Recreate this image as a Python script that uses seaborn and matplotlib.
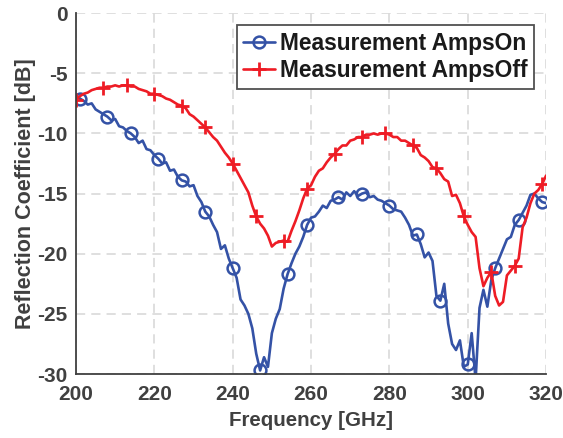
import numpy as np
import pandas as pd
import matplotlib
matplotlib.use("Agg")
import matplotlib.pyplot as plt
import seaborn as sns

freq = list(range(200, 321))

amps_on = [
    -6.8, -7.1, -7.3, -7.6, -7.5, -8.0, -8.2, -8.4, -8.6, -8.9,
    -8.8, -9.4, -9.5, -9.8, -10.0, -10.3, -10.8, -10.6, -11.3, -11.4,
    -11.8, -12.1, -12.5, -12.4, -13.1, -13.0, -13.6, -13.9, -14.0, -14.4,
    -14.3, -15.2, -15.7, -16.5, -16.9, -17.6, -18.2, -19.6, -19.3, -20.4,
    -21.2, -22.0, -23.8, -24.3, -25.0, -26.2, -28.3, -29.7, -28.6, -29.4,
    -26.6, -25.4, -24.6, -22.9, -21.7, -20.8, -20.0, -19.4, -18.6, -17.6,
    -17.0, -16.9, -16.5, -16.0, -16.2, -15.6, -15.5, -15.3, -15.5, -14.9,
    -15.2, -14.8, -15.2, -15.0, -14.9, -15.3, -15.2, -15.5, -15.6, -15.8,
    -16.0, -16.3, -16.4, -16.5, -17.0, -17.6, -18.5, -18.4, -19.2, -20.3,
    -19.9, -20.6, -23.5, -23.9, -22.5, -25.8, -27.5, -28.0, -27.2, -29.4,
    -29.2, -26.6, -30.5, -24.5, -23.0, -24.4, -22.2, -21.2, -20.4, -19.6,
    -18.8, -18.6, -17.6, -17.2, -16.6, -16.0, -15.1, -15.0, -15.4, -15.7,
    -15.8,
]

amps_off = [
    -7.2, -6.9, -6.7, -6.6, -6.4, -6.3, -6.2, -6.2, -6.1, -6.1,
    -6.0, -6.1, -6.0, -6.0, -6.1, -6.1, -6.3, -6.4, -6.5, -6.7,
    -6.7, -6.8, -6.9, -7.1, -7.2, -7.4, -7.6, -7.7, -7.9, -8.4,
    -8.6, -8.9, -9.2, -9.5, -9.9, -10.3, -10.6, -11.1, -11.6, -12.0,
    -12.5, -13.1, -13.7, -14.3, -14.9, -16.0, -16.9, -17.5, -17.9, -18.5,
    -19.4, -19.1, -19.0, -18.9, -19.0, -18.1, -17.3, -16.4, -15.4, -14.6,
    -14.3, -13.6, -13.1, -12.9, -12.4, -12.0, -11.7, -11.3, -11.0, -11.0,
    -10.6, -10.5, -10.3, -10.3, -10.1, -10.1, -10.0, -10.1, -10.0, -10.0,
    -10.1, -10.3, -10.3, -10.6, -10.6, -10.8, -11.0, -11.2, -11.8, -12.0,
    -12.3, -12.8, -12.9, -13.3, -13.8, -14.0, -15.2, -15.1, -15.8, -16.9,
    -17.6, -18.2, -18.6, -21.2, -22.7, -22.0, -21.5, -23.5, -24.3, -24.0,
    -21.8, -21.4, -21.0, -20.4, -17.8, -17.0, -15.8, -15.0, -14.7, -14.2,
    -13.5,
]

on_marks = [1, 8, 14, 21, 27, 33, 40, 47, 54, 59, 67, 73, 80, 87, 93, 100, 107, 113, 119]
off_marks = [0, 7, 13, 20, 27, 33, 40, 46, 53, 59, 66, 73, 79, 86, 92, 99, 106, 112, 119]

xticks = [200, 220, 240, 260, 280, 300, 320]
yticks = [0, -5, -10, -15, -20, -25, -30]

labels = ["Measurement AmpsOn", "Measurement AmpsOff"]

sns.set_theme(style="white")
plt.rcParams['font.family'] = ['Liberation Sans', 'DejaVu Sans']
plt.rcParams['axes.unicode_minus'] = False

df_on = pd.DataFrame({"f": freq, "v": amps_on})
df_off = pd.DataFrame({"f": freq, "v": amps_off})

fig = plt.figure(figsize=(5.63, 4.38), dpi=100)
ax = fig.add_axes([0.135, 0.146, 0.835, 0.824])

blue = '#3452a6'
red = '#ee1c25'

sns.lineplot(data=df_on, x="f", y="v", ax=ax, color=blue, linewidth=1.9,
             marker='o', markersize=8.5, markerfacecolor='none',
             markeredgecolor=blue, markeredgewidth=1.8,
             markevery=on_marks, label=labels[0], estimator=None, sort=False)
sns.lineplot(data=df_off, x="f", y="v", ax=ax, color=red, linewidth=1.9,
             marker='+', markersize=10, markeredgecolor=red, markeredgewidth=2.0,
             markevery=off_marks, label=labels[1], estimator=None, sort=False)

ax.set_xlim(200, 320)
ax.set_ylim(-30, 0)
ax.set_xticks(xticks)
ax.set_yticks(yticks)
ax.set_xticklabels([str(t) for t in xticks])
ax.set_yticklabels([str(t) for t in yticks])

ax.grid(True, color='#d6d6d6', linestyle=(0, (6, 4)), linewidth=1.1)
ax.set_axisbelow(True)

for s in ['top', 'right']:
    ax.spines[s].set_visible(False)
for s in ['left', 'bottom']:
    ax.spines[s].set_color('#404040')
    ax.spines[s].set_linewidth(1.3)

txtc = '#404040'
ax.tick_params(axis='both', direction='in', length=5, width=1.2, colors='#404040',
               labelsize=15, labelcolor=txtc)
ax.tick_params(axis='x', pad=8)
ax.tick_params(axis='y', pad=6)
for lab in ax.get_xticklabels() + ax.get_yticklabels():
    lab.set_fontweight('bold')

ax.set_xlabel("Frequency [GHz]", fontsize=14.8, fontweight='bold', color=txtc, labelpad=5)
ax.set_ylabel("Reflection Coefficient [dB]", fontsize=15.5, fontweight='bold', color=txtc, labelpad=1)

leg = ax.legend(loc='upper right', bbox_to_anchor=(0.975, 0.967), borderaxespad=0,
                fancybox=False, framealpha=1, edgecolor='#505050',
                prop={'weight': 'bold', 'size': 16.4}, handlelength=1.4,
                handletextpad=0.2, labelspacing=0.2, borderpad=0.3)
leg.get_frame().set_linewidth(1.3)
for t in leg.get_texts():
    t.set_color('#1a1a1a')

fig.savefig("out.png", dpi=100)
